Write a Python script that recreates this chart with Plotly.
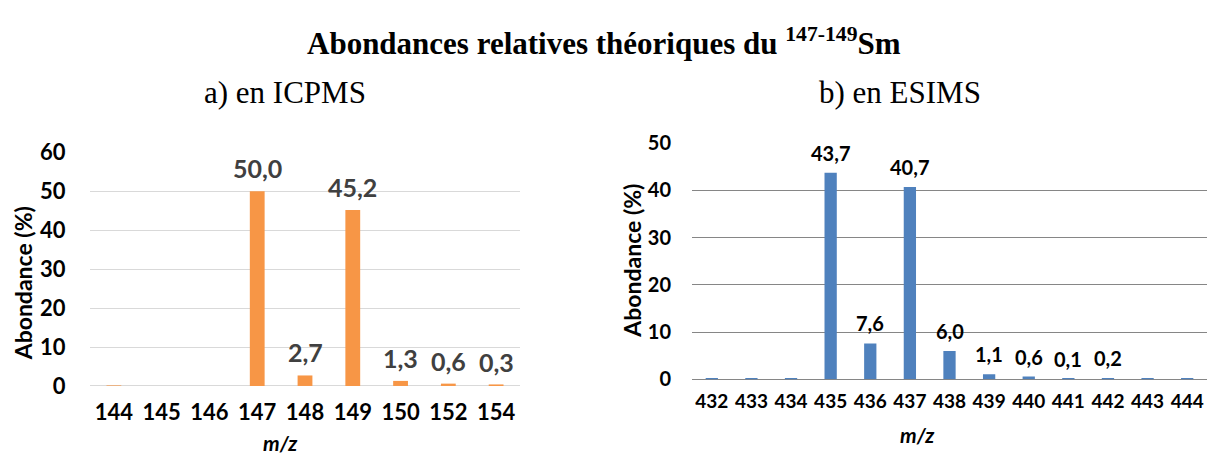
import plotly.graph_objects as go

# ICP-MS isotopes of Sm
icp_mz = ["144", "145", "146", "147", "148", "149", "150", "152", "154"]
icp_abund = [0.1, None, None, 50.0, 2.7, 45.2, 1.3, 0.6, 0.3]
icp_labels = ["", "", "", "50,0", "2,7", "45,2", "1,3", "0,6", "0,3"]

# ESI-MS cluster
esi_mz = ["432", "433", "434", "435", "436", "437", "438", "439", "440",
          "441", "442", "443", "444"]
esi_abund = [0.1, 0.1, 0.1, 43.7, 7.6, 40.7, 6.0, 1.1, 0.6, 0.1, 0.2, 0.1, 0.1]
esi_labels = ["", "", "", "43,7", "7,6", "40,7", "6,0", "1,1", "0,6",
              "0,1", "0,2", "", ""]

W, H = 1210, 463
SANS = "Lato, 'Open Sans', Arial, sans-serif"
SERIF = "'Liberation Serif', 'Times New Roman', serif"
CLEAR = "rgba(0,0,0,0)"


def px(x):
    return x / W


def py(y):
    return 1 - y / H


fig = go.Figure()

fig.add_trace(go.Bar(
    x=icp_mz, y=icp_abund, width=0.31,
    marker=dict(color="#F79646", line=dict(width=0)),
    xaxis="x", yaxis="y", showlegend=False, hoverinfo="x+y",
))
fig.add_trace(go.Bar(
    x=esi_mz, y=esi_abund, width=0.31,
    marker=dict(color="#4F81BD", line=dict(width=0)),
    xaxis="x2", yaxis="y2", showlegend=False, hoverinfo="x+y",
))

annotations = []

# value labels above the bars (x given as category index)
for i, (v, t) in enumerate(zip(icp_abund, icp_labels)):
    if t:
        annotations.append(dict(
            x=i, y=v, xref="x", yref="y", text=t, showarrow=False,
            xanchor="center", yanchor="middle", yshift=23,
            font=dict(family=SANS, size=25, color="#404040", weight="bold"),
        ))
for i, (v, t) in enumerate(zip(esi_abund, esi_labels)):
    if t:
        annotations.append(dict(
            x=i, y=v, xref="x2", yref="y2", text=t, showarrow=False,
            xanchor="center", yanchor="middle", yshift=20,
            font=dict(family=SANS, size=20, color="#000000", weight="bold"),
        ))


def note(x, y, text, size, family, angle=0):
    return dict(x=px(x), y=py(y), xref="paper", yref="paper", showarrow=False,
                text=text, textangle=angle, xanchor="center", yanchor="middle",
                font=dict(family=family, size=size, color="#000000"))


annotations += [
    note(604, 29, "<b>Abondances relatives théoriques du <sup>147-149</sup>Sm</b>",
         31, SERIF),
    note(285, 83, "a) en ICPMS", 31, SERIF),
    note(900, 83, "b) en ESIMS", 31, SERIF),
    note(23, 286, "<b>Abondance (%)</b>", 23, SANS, -90),
    note(632, 262, "<b>Abondance (%)</b>", 23, SANS, -90),
    note(280, 455, "<b><i>m/z</i></b>", 21, SANS),
    note(917, 447, "<b><i>m/z</i></b>", 21, SANS),
]

fig.update_layout(
    width=W, height=H,
    margin=dict(l=0, r=0, t=0, b=0),
    paper_bgcolor="white", plot_bgcolor="white",
    annotations=annotations,
    xaxis=dict(
        domain=[px(90), px(520)], anchor="y", type="category",
        range=[-0.5, len(icp_mz) - 0.5],
        showgrid=False, showline=False, zeroline=False,
        ticks="outside", ticklen=7, tickcolor=CLEAR,
        tickfont=dict(family=SANS, size=22, color="#000000", weight="bold"),
    ),
    yaxis=dict(
        domain=[py(395), py(147)], anchor="x", range=[0, 60],
        tickvals=[0, 10, 20, 30, 40, 50, 60],
        showgrid=True, gridcolor="#D9D9D9", gridwidth=1,
        zeroline=True, zerolinecolor="#D9D9D9", zerolinewidth=1,
        showline=False, ticks="outside", ticklen=19, tickcolor=CLEAR,
        tickfont=dict(family=SANS, size=22, color="#000000", weight="bold"),
    ),
    xaxis2=dict(
        domain=[px(692), px(1207)], anchor="y2", type="category",
        range=[-0.5, len(esi_mz) - 0.5],
        showgrid=False, showline=False, zeroline=False,
        ticks="outside", ticklen=5, tickcolor=CLEAR,
        tickfont=dict(family=SANS, size=19, color="#000000", weight="bold"),
    ),
    yaxis2=dict(
        domain=[py(388), py(137)], anchor="x2", range=[0, 50],
        tickvals=[0, 10, 20, 30, 40, 50],
        showgrid=True, gridcolor="#868686", gridwidth=1,
        zeroline=True, zerolinecolor="#868686", zerolinewidth=1,
        showline=False, ticks="outside", ticklen=16, tickcolor=CLEAR,
        tickfont=dict(family=SANS, size=20, color="#000000", weight="bold"),
    ),
)

fig.write_html("out.html")
